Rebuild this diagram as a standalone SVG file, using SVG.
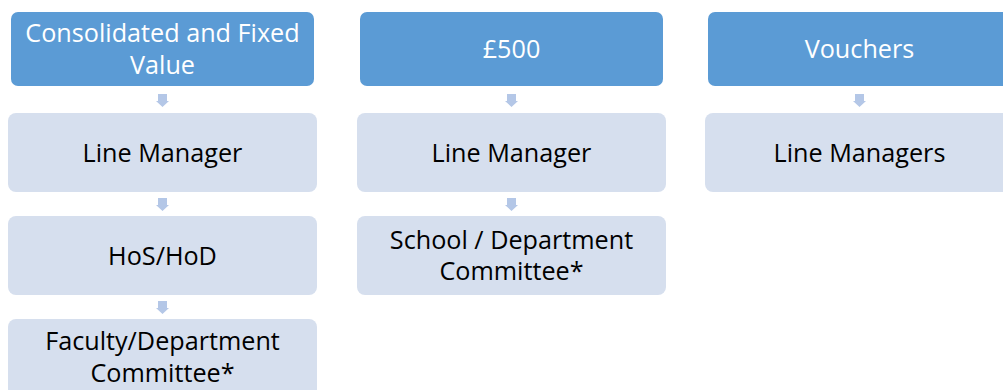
<svg xmlns="http://www.w3.org/2000/svg" width="1003" height="390" viewBox="0 0 1003 390">
<style>
.hdr{fill:#5B9BD5;}
.box{fill:#D6DFEE;}
.arr{fill:#B4C7E7;}
text{font-family:"Open Sans","Noto Sans",sans-serif;font-size:25.2px;text-anchor:middle;}
.ht{fill:#FFFFFF;}
.bt{fill:#000000;}
</style>
<defs>
<polygon id="arrow" points="-4.5,0 4.5,0 4.5,7 6.5,7 0,13 -6.5,7 -4.5,7"/>
</defs>
<rect width="1003" height="390" fill="#FFFFFF"/>
<g id="connectors">
<use href="#arrow" class="arr" x="162.5" y="94"/>
<use href="#arrow" class="arr" x="162.5" y="198"/>
<use href="#arrow" class="arr" x="162.5" y="301"/>
<use href="#arrow" class="arr" x="511.5" y="94"/>
<use href="#arrow" class="arr" x="511.5" y="198"/>
<use href="#arrow" class="arr" x="859.5" y="94"/>
</g>
<g id="h1"><rect class="hdr" x="11" y="12" width="303" height="74" rx="7"/><text class="ht" x="162.5" y="41.7">Consolidated and Fixed</text><text class="ht" x="162.5" y="74.3">Value</text></g>
<g id="c1a"><rect class="box" x="8" y="113" width="309" height="79" rx="8"/><text class="bt" x="162.5" y="161.7">Line Manager</text></g>
<g id="c1b"><rect class="box" x="8" y="216" width="309" height="79" rx="8"/><text class="bt" x="162.5" y="264.7">HoS/HoD</text></g>
<g id="c1c"><rect class="box" x="8" y="319" width="309" height="79" rx="8"/><text class="bt" x="162.5" y="350">Faculty/Department</text><text class="bt" x="162.5" y="381.7">Committee*</text></g>
<g id="h2"><rect class="hdr" x="360" y="12" width="303" height="74" rx="7"/><text class="ht" x="511.5" y="58.3">£500</text></g>
<g id="c2a"><rect class="box" x="357" y="113" width="309" height="79" rx="8"/><text class="bt" x="511.5" y="161.7">Line Manager</text></g>
<g id="c2b"><rect class="box" x="357" y="216" width="309" height="79" rx="8"/><text class="bt" x="511.5" y="248.7">School / Department</text><text class="bt" x="511.5" y="280">Committee*</text></g>
<g id="h3"><rect class="hdr" x="708" y="12" width="303" height="74" rx="7"/><text class="ht" x="859.5" y="58.3">Vouchers</text></g>
<g id="c3a"><rect class="box" x="705" y="113" width="309" height="79" rx="8"/><text class="bt" x="859.5" y="161.7">Line Managers</text></g>
</svg>
